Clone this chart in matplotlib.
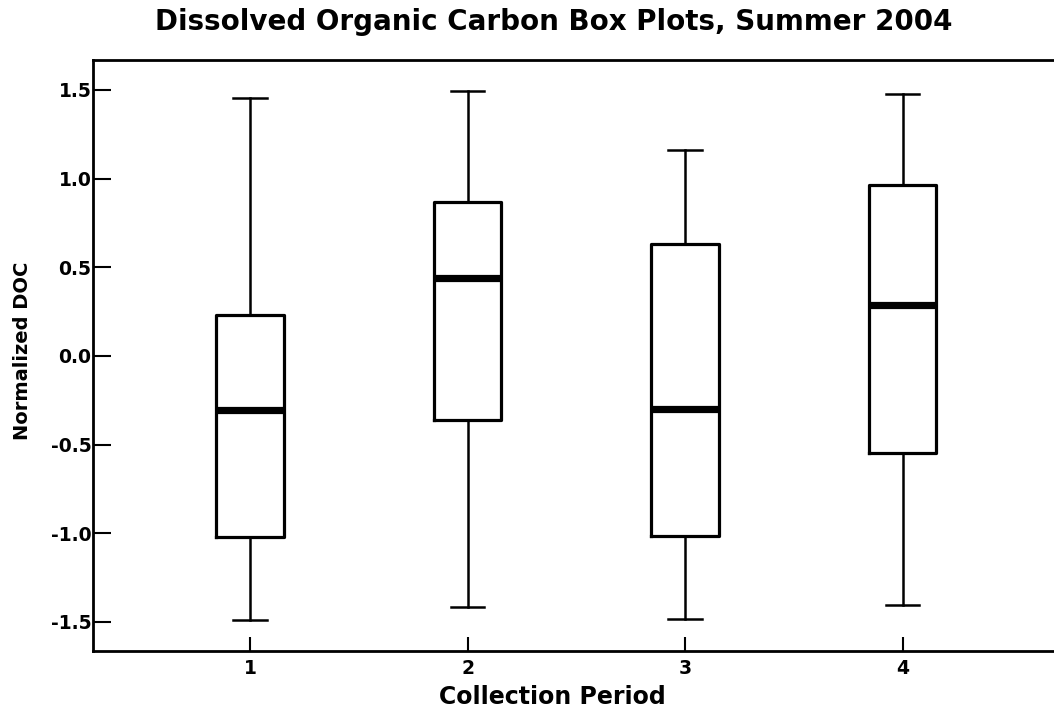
import matplotlib
matplotlib.use('Agg')
import matplotlib.pyplot as plt

# Box plot summary per collection period
periods = [1, 2, 3, 4]
whisker_hi = [1.456, 1.492, 1.163, 1.477]
q3 = [0.231, 0.867, 0.632, 0.965]
medians = [-0.305, 0.438, -0.297, 0.286]
q1 = [-1.020, -0.361, -1.014, -0.546]
whisker_lo = [-1.490, -1.416, -1.484, -1.405]
yticks = [-1.5, -1.0, -0.5, 0.0, 0.5, 1.0, 1.5]

stats = []
for i in range(len(periods)):
    stats.append({'label': str(periods[i]), 'med': medians[i],
                  'q1': q1[i], 'q3': q3[i],
                  'whislo': whisker_lo[i], 'whishi': whisker_hi[i],
                  'fliers': []})

fig = plt.figure(figsize=(10.54, 7.09), dpi=100)
ax = fig.add_axes([0.0882, 0.0818, 0.9118, 0.8336])

ax.bxp(stats, positions=periods, widths=0.31, showfliers=False,
       boxprops=dict(color='black', linewidth=2.3),
       whiskerprops=dict(color='black', linewidth=1.8),
       capprops=dict(color='black', linewidth=1.8),
       medianprops=dict(color='black', linewidth=5.2, solid_capstyle='butt'))

ax.set_xlim(0.278, 4.696)
ax.set_ylim(-1.664, 1.669)
ax.set_yticks(yticks)
ax.set_yticklabels(['%.1f' % v for v in yticks])
ax.set_xticks(periods)
ax.set_xticklabels([str(p) for p in periods])

for side in ['left', 'bottom', 'top']:
    ax.spines[side].set_linewidth(2)
ax.spines['right'].set_visible(False)

ax.tick_params(axis='y', direction='in', length=13, width=1.5, pad=1,
               labelsize=13.5)
ax.tick_params(axis='x', direction='in', length=10, width=1.5, pad=6,
               labelsize=13.5)
for lab in ax.get_xticklabels() + ax.get_yticklabels():
    lab.set_fontweight('bold')
    lab.set_family('DejaVu Sans')

fig.text(0.525, 0.969, 'Dissolved Organic Carbon Box Plots, Summer 2004',
         ha='center', va='center', fontsize=20, fontweight='bold',
         family='DejaVu Sans')
fig.text(0.524, 0.017, 'Collection Period', ha='center', va='center',
         fontsize=17, fontweight='bold', family='DejaVu Sans')
fig.text(0.021, 0.505, 'Normalized DOC', ha='center', va='center',
         rotation=90, fontsize=14, fontweight='bold',
         family='DejaVu Sans')

fig.savefig('out.png', dpi=100)
